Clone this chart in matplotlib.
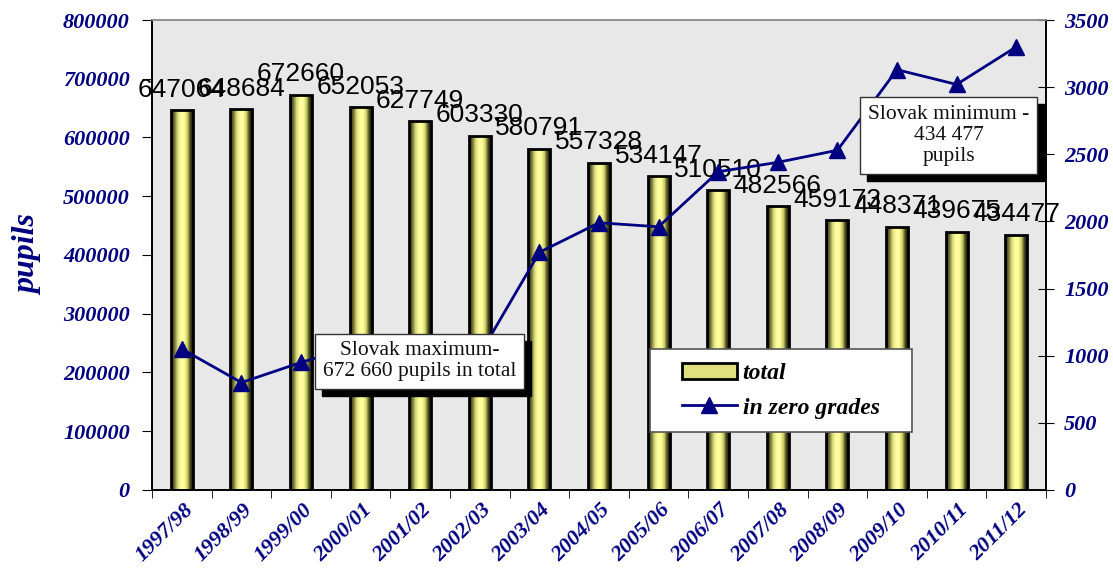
import numpy as np
import matplotlib
matplotlib.use("Agg")
import matplotlib.pyplot as plt
from matplotlib.colors import LinearSegmentedColormap
from matplotlib.patches import Patch, Rectangle
from matplotlib.lines import Line2D
from matplotlib.transforms import offset_copy, ScaledTranslation

years = ["1997/98", "1998/99", "1999/00", "2000/01", "2001/02", "2002/03", "2003/04",
         "2004/05", "2005/06", "2006/07", "2007/08", "2008/09", "2009/10", "2010/11", "2011/12"]
total = [647064, 648684, 672660, 652053, 627749, 603330, 580791, 557328, 534147,
         510510, 482566, 459173, 448371, 439675, 434477]
zero_grades = [1050, 800, 950, 1080, 1040, 1010, 1770, 1990, 1960, 2370, 2440, 2530, 3130, 3020, 3300]

NAVY = "#000080"
SERIF = "Liberation Serif"

fig = plt.figure(figsize=(11.13, 5.70), dpi=100)
ax = fig.add_axes([0.1366, 0.1404, 0.8032, 0.8245])
ax.set_facecolor("#e8e8e8")

x = np.arange(len(years))
bars = ax.bar(x, total, width=0.37, facecolor="none", edgecolor="black", linewidth=2, zorder=3)

# cylinder-like shading for the bars
cyl = LinearSegmentedColormap.from_list(
    "cyl", ["#141400", "#707030", "#d8d880", "#ffff99", "#ffffa0", "#d0d068", "#404018", "#0c0c00"])
grad = np.linspace(0, 1, 64).reshape(1, -1)
for b in bars:
    x0, w, h = b.get_x(), b.get_width(), b.get_height()
    im = ax.imshow(grad, extent=[x0, x0 + w, 0, h], aspect="auto", cmap=cyl, zorder=2.5)
    im.set_clip_path(b)

ax.bar_label(bars, labels=[str(v) for v in total], padding=6, fontsize=19,
             family="Liberation Sans", color="black")

ax.set_xlim(-0.5, len(years) - 0.5)
ax.set_ylim(0, 800000)
ax.set_yticks(np.arange(0, 800001, 100000))
ax.set_yticklabels([str(v) for v in range(0, 800001, 100000)])
ax.set_xticks(x)
ax.set_xticklabels(years)
ax.set_xticks(np.arange(-0.5, len(years), 1), minor=True)
ax.tick_params(axis="x", which="major", length=0, pad=14)
ax.tick_params(axis="x", which="minor", length=6, direction="out")
ax.tick_params(axis="y", length=7, direction="out", pad=9)
shift = ScaledTranslation(6 / 72, 2 / 72, fig.dpi_scale_trans)
for lab in ax.get_xticklabels():
    lab.set_rotation(45)
    lab.set_rotation_mode("anchor")
    lab.set_ha("right")
    lab.set_va("center")
    lab.set_transform(lab.get_transform() + shift)
for lab in ax.get_xticklabels() + ax.get_yticklabels():
    lab.set_fontfamily(SERIF)
    lab.set_fontweight("bold")
    lab.set_fontstyle("italic")
    lab.set_fontsize(16)
    lab.set_color(NAVY)

ax.set_ylabel("pupils", fontsize=23, fontweight="bold", fontstyle="italic",
              family=SERIF, color=NAVY, labelpad=14)

ax2 = ax.twinx()
ax2.plot(x, zero_grades, color=NAVY, linewidth=2, marker="^", markersize=12, zorder=3)
ax2.set_ylim(0, 3500)
ax2.set_yticks(np.arange(0, 3501, 500))
ax2.tick_params(axis="y", length=12, direction="inout", pad=7)
for lab in ax2.get_yticklabels():
    lab.set_fontfamily(SERIF)
    lab.set_fontweight("bold")
    lab.set_fontstyle("italic")
    lab.set_fontsize(16)
    lab.set_color(NAVY)

for a in (ax, ax2):
    a.spines["top"].set_color("#909090")
    a.spines["left"].set_color("black")
    a.spines["right"].set_color("black")
    a.spines["bottom"].set_color("black")
    for s in a.spines.values():
        s.set_linewidth(1.2)


def shadow_box(text, xa, ya, shift=7):
    sh = offset_copy(ax2.transAxes, fig=fig, x=shift, y=-shift, units="dots")
    kw = dict(ha="center", va="center", fontsize=15.5, family=SERIF, linespacing=1.15)
    ax2.text(xa, ya, text, transform=sh, color="black", zorder=9,
             bbox=dict(boxstyle="square,pad=0.35", fc="black", ec="black"), **kw)
    ax2.text(xa, ya, text, transform=ax2.transAxes, color="#111111", zorder=10,
             bbox=dict(boxstyle="square,pad=0.35", fc="white", ec="#333333", lw=1), **kw)


shadow_box("Slovak maximum-\n672 660 pupils in total", 0.299, 0.274)
shadow_box("Slovak minimum -\n434 477\npupils", 0.891, 0.754)

# legend box
ax2.add_patch(Rectangle((0.557, 0.123), 0.293, 0.177, transform=ax2.transAxes,
                        fc="white", ec="#555555", lw=1.2, zorder=11))
handles = [Patch(facecolor="#e0e080", edgecolor="black", linewidth=2),
           Line2D([], [], color=NAVY, linewidth=2, marker="^", markersize=12)]
leg = ax2.legend(handles, ["total", "in zero grades"], loc="center",
                 bbox_to_anchor=(0.557 + 0.293 / 2, 0.123 + 0.177 / 2), frameon=False,
                 prop=dict(family=SERIF, weight="bold", style="italic", size=17),
                 handlelength=2.3, handletextpad=0.25, labelspacing=0.55)
leg.set_zorder(12)

fig.savefig("out.png", dpi=100, facecolor="white")
